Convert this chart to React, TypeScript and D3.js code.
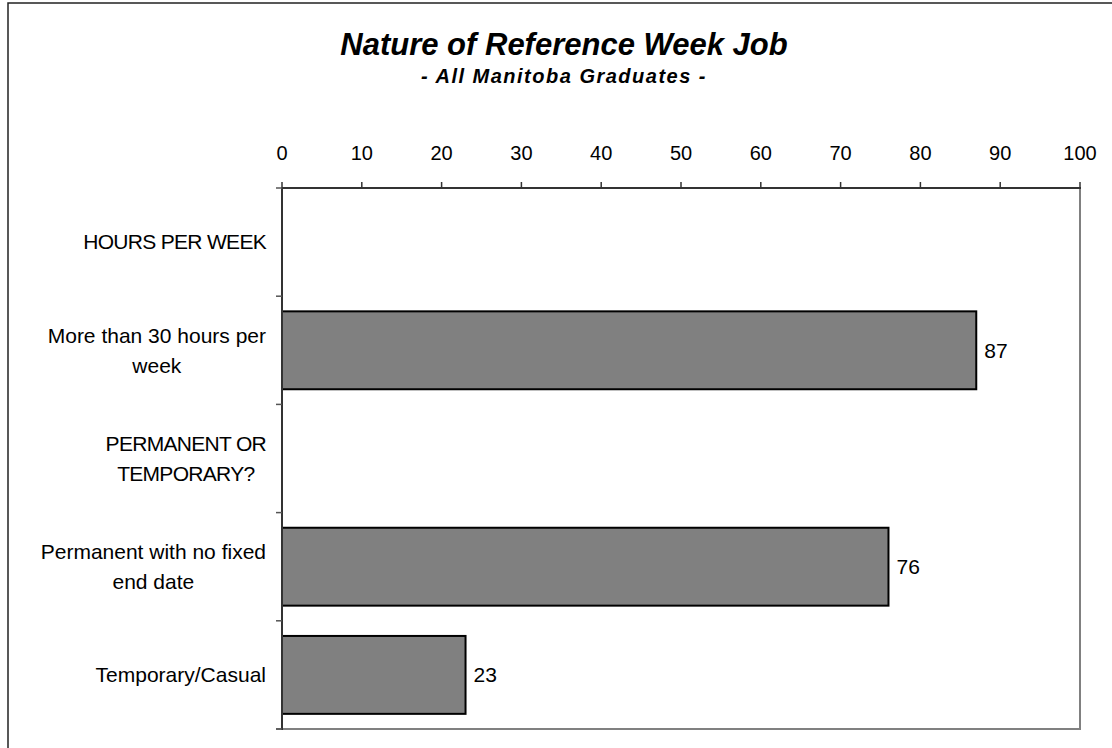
import React, { useEffect, useRef } from "react";
import * as d3 from "d3";

const categories = [
  "HOURS PER WEEK",
  "More than 30 hours per week",
  "PERMANENT OR TEMPORARY?",
  "Permanent with no fixed end date",
  "Temporary/Casual",
];
const categoryLines = [
  ["HOURS PER WEEK"],
  ["More than 30 hours per", "week"],
  ["PERMANENT OR", "TEMPORARY?"],
  ["Permanent with no fixed", "end date"],
  ["Temporary/Casual"],
];
const values: (number | null)[] = [null, 87, null, 76, 23];
const xTicks = [0, 10, 20, 30, 40, 50, 60, 70, 80, 90, 100];
const title = "Nature of Reference Week Job";
const subtitle = "- All Manitoba Graduates -";

const W = 1112;
const H = 748;
const FONT = "'Liberation Sans', Arial, Helvetica, sans-serif";

export default function App() {
  const ref = useRef<SVGSVGElement | null>(null);

  useEffect(() => {
    const svg = d3.select(ref.current);
    svg.selectAll("*").remove();

    const left = 282;
    const right = 1080;
    const top = 188;
    const bottom = 729;

    const x = d3.scaleLinear().domain([0, 100]).range([left, right]);
    const y = d3
      .scaleBand<string>()
      .domain(categories)
      .range([top, bottom])
      .paddingInner(0)
      .paddingOuter(0);
    const step = y.bandwidth();
    const barH = step * 0.72;

    // outer chart border
    svg
      .append("rect")
      .attr("x", 8)
      .attr("y", 3)
      .attr("width", 1300)
      .attr("height", 900)
      .attr("fill", "white")
      .attr("stroke", "#222")
      .attr("stroke-width", 1.5);

    // title
    svg
      .append("text")
      .attr("x", 564)
      .attr("y", 55)
      .attr("text-anchor", "middle")
      .attr("font-family", FONT)
      .attr("font-weight", "bold")
      .attr("font-style", "italic")
      .attr("font-size", 31)
      .text(title);
    svg
      .append("text")
      .attr("x", 564)
      .attr("y", 83)
      .attr("text-anchor", "middle")
      .attr("font-family", FONT)
      .attr("font-weight", "bold")
      .attr("font-style", "italic")
      .attr("font-size", 20)
      .attr("letter-spacing", 1.5)
      .text(subtitle);

    // plot area border: right & bottom grey
    svg
      .append("line")
      .attr("x1", right)
      .attr("x2", right)
      .attr("y1", top)
      .attr("y2", bottom)
      .attr("stroke", "#808080")
      .attr("stroke-width", 2);
    svg
      .append("line")
      .attr("x1", left - 6)
      .attr("x2", right + 1)
      .attr("y1", bottom)
      .attr("y2", bottom)
      .attr("stroke", "#808080")
      .attr("stroke-width", 2);

    // bars
    categories.forEach((c, i) => {
      const v = values[i];
      if (v == null) return;
      const cy = (y(c) as number) + step / 2;
      svg
        .append("rect")
        .attr("x", x(0))
        .attr("y", cy - barH / 2)
        .attr("width", x(v) - x(0))
        .attr("height", barH)
        .attr("fill", "#808080")
        .attr("stroke", "#000")
        .attr("stroke-width", 2);
      svg
        .append("text")
        .attr("x", x(v) + 8)
        .attr("y", cy)
        .attr("dy", "0.35em")
        .attr("font-family", FONT)
        .attr("font-size", 21)
        .attr("fill", "#000")
        .text(String(v));
    });

    // top axis
    svg
      .append("line")
      .attr("x1", left)
      .attr("x2", right + 1)
      .attr("y1", top)
      .attr("y2", top)
      .attr("stroke", "#333")
      .attr("stroke-width", 2);
    xTicks.forEach((t) => {
      svg
        .append("line")
        .attr("x1", x(t))
        .attr("x2", x(t))
        .attr("y1", top - 6)
        .attr("y2", top)
        .attr("stroke", "#333")
        .attr("stroke-width", 1.5);
      svg
        .append("text")
        .attr("x", x(t))
        .attr("y", 160)
        .attr("text-anchor", "middle")
        .attr("font-family", FONT)
        .attr("font-size", 20)
        .attr("fill", "#000")
        .text(String(t));
    });

    // left axis
    svg
      .append("line")
      .attr("x1", left)
      .attr("x2", left)
      .attr("y1", top - 1)
      .attr("y2", bottom + 1)
      .attr("stroke", "#333")
      .attr("stroke-width", 2);
    const bounds = [...categories.map((c) => y(c) as number), bottom];
    bounds.forEach((b) => {
      svg
        .append("line")
        .attr("x1", left - 6)
        .attr("x2", left)
        .attr("y1", b)
        .attr("y2", b)
        .attr("stroke", "#555")
        .attr("stroke-width", 1.5);
    });

    // category labels: block right-aligned, lines centered
    const labelRight = 266;
    const lineH = 30;
    categories.forEach((c, i) => {
      const lines = categoryLines[i];
      const cy = (y(c) as number) + step / 2;
      const g = svg.append("g");
      const texts = lines.map((ln, j) =>
        g
          .append("text")
          .attr("y", cy + (j - (lines.length - 1) / 2) * lineH)
          .attr("dy", "0.35em")
          .attr("text-anchor", "middle")
          .attr("font-family", FONT)
          .attr("font-size", 21)
          .attr("letter-spacing", ln === ln.toUpperCase() ? -0.7 : 0)
          .attr("fill", "#000")
          .text(ln)
      );
      const widths = texts.map((t) => (t.node() as SVGTextElement).getComputedTextLength());
      const maxW = d3.max(widths) || 0;
      texts.forEach((t) => t.attr("x", labelRight - maxW / 2));
    });
  }, []);

  return (
    <svg
      ref={ref}
      width={W}
      height={H}
      style={{ position: "absolute", left: 0, top: 0, background: "white" }}
    />
  );
}
